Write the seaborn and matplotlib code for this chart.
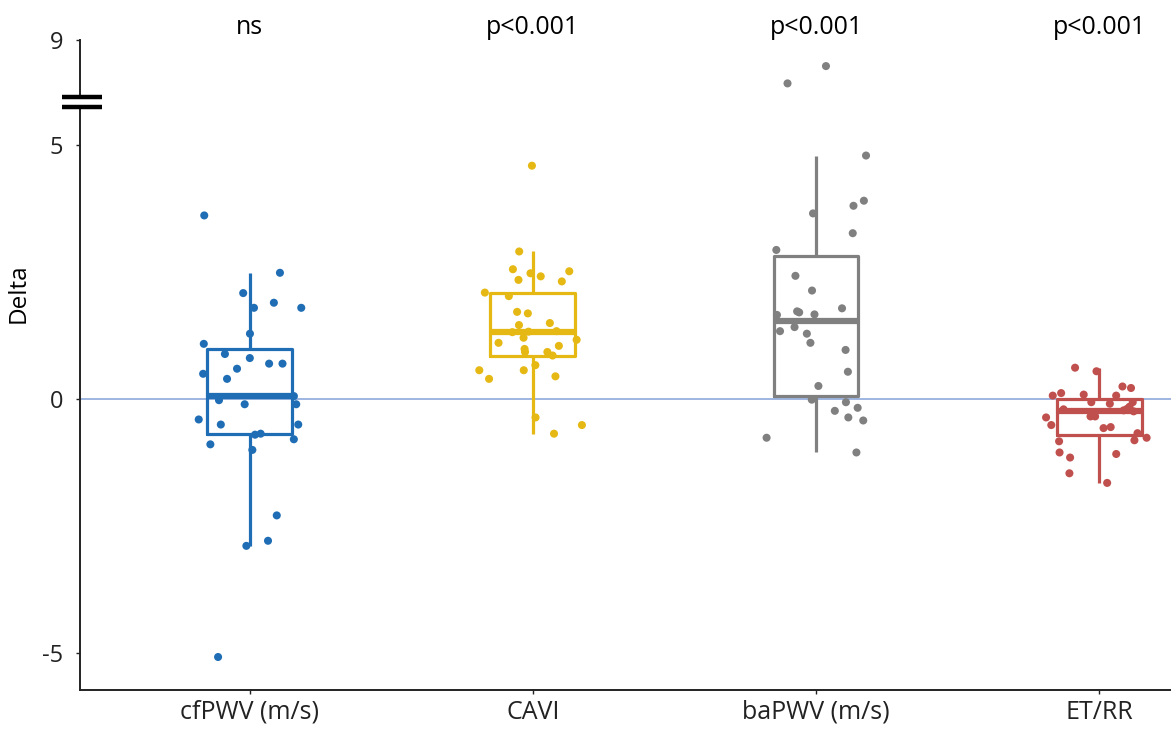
import numpy as np
import pandas as pd
import matplotlib.pyplot as plt
import matplotlib.transforms as mtransforms
import seaborn as sns

# categorias e valores
categorias = ['cfPWV (m/s)', 'CAVI', 'baPWV (m/s)', 'ET/RR']
pvalores = ['ns', 'p<0.001', 'p<0.001', 'p<0.001']
cores = ['#1F6DB4', '#E5B814', '#808080', '#C0504D']

cfpwv = [3.62, 2.49, 2.09, 1.90, 1.80, 1.80, 1.29, 1.09, 0.89, 0.81, 0.70, 0.70,
         0.60, 0.50, 0.40, 0.06, -0.02, -0.10, -0.10, -0.40, -0.68, -0.50, -0.50,
         -0.70, -0.79, -0.89, -1.00, -2.29, -2.79, -2.89, -5.08]
cavi = [4.60, 2.91, 2.48, 2.35, 2.52, 2.32, 2.56, 2.42, 2.03, 1.69, 1.72, 1.50,
        1.46, 1.33, 1.34, 1.21, 1.17, 1.11, 1.05, 0.99, 0.93, 0.93, 0.67, 0.57,
        0.57, 0.40, 0.45, -0.36, -0.68, -0.51, 0.86, 2.10, 1.32]
bapwv = [7.93, 7.22, 4.80, 3.91, 3.81, 3.66, 3.27, 2.94, 2.43, 2.14, 1.79, 1.67,
         1.66, 1.71, 1.73, 1.42, 1.34, 1.29, 1.11, 0.97, 0.54, 0.26, -0.01, -0.06,
         -0.17, -0.23, -0.36, -0.42, -0.76, -1.05]
etrr = [0.62, 0.55, 0.22, 0.25, 0.12, 0.07, 0.07, 0.09, -0.06, -0.06, -0.09, -0.22,
        -0.24, -0.19, -0.36, -0.34, -0.34, -0.51, -0.57, -0.55, -0.81, -0.76, -0.83,
        -1.15, -1.08, -1.05, -1.46, -1.65, -0.20, -0.15, -0.67]

yticks = [-5, 0, 5, 9]

df = pd.DataFrame({
    'Variavel': np.repeat(categorias, [len(cfpwv), len(cavi), len(bapwv), len(etrr)]),
    'Delta': cfpwv + cavi + bapwv + etrr,
})

# eixo com quebra: acima do corte a escala é comprimida
corte, fator = 5.3, 0.48


def ida(v):
    v = np.asarray(v, dtype=float)
    return np.where(v <= corte, v, corte + (v - corte) * fator)


def volta(u):
    u = np.asarray(u, dtype=float)
    return np.where(u <= corte, u, corte + (u - corte) / fator)


sns.set_style('white')
plt.rcParams['font.family'] = ['Open Sans', 'DejaVu Sans']

fig = plt.figure(figsize=(11.71, 7.29), dpi=100)
ax = fig.add_axes([0.0683, 0.0535, 0.9317, 0.8916])

ax.axhline(0, color='#8EA9DB', lw=1.2, zorder=0)

sns.boxplot(data=df, x='Variavel', y='Delta', hue='Variavel', palette=cores,
            fill=False, width=0.30, linewidth=2.3, showcaps=False, showfliers=False,
            medianprops={'linewidth': 4.5}, legend=False, ax=ax)

np.random.seed(7)
sns.stripplot(data=df, x='Variavel', y='Delta', hue='Variavel', palette=cores,
              jitter=0.19, size=5.8, linewidth=0, legend=False, zorder=3, ax=ax)

ax.set_yscale('function', functions=(ida, volta))
ax.set_ylim(-5.73, 9)
ax.set_xlim(-0.60, 3.254)
ax.set_yticks(yticks)
ax.set_yticklabels([str(t) for t in yticks])

ax.set_xlabel('')
ax.set_ylabel('Delta', fontsize=17.5, color='black')
ax.yaxis.set_label_coords(-0.045, 0.61)

for lado in ['top', 'right']:
    ax.spines[lado].set_visible(False)
for lado in ['left', 'bottom']:
    ax.spines[lado].set_color('#222222')
    ax.spines[lado].set_linewidth(1.4)

ax.tick_params(axis='y', left=True, length=3, width=1, pad=9, labelsize=17, colors='#222222')
ax.tick_params(axis='x', bottom=True, length=3, width=1, pad=4, labelsize=18, colors='#222222')

# valores de p acima de cada grupo
trans = mtransforms.blended_transform_factory(ax.transData, ax.transAxes)
for i, p in enumerate(pvalores):
    ax.text(i, 1.02, p, transform=trans, ha='center', va='center', fontsize=18, color='black')

# marca da quebra do eixo
ax.plot([-0.006, 0.006], [0.9046, 0.9046], transform=ax.transAxes, color='white',
        lw=5, clip_on=False, zorder=6, solid_capstyle='butt')
for yq in [0.9118, 0.8965]:
    ax.plot([-0.0165, 0.0202], [yq, yq], transform=ax.transAxes, color='black',
            lw=3.2, clip_on=False, zorder=7, solid_capstyle='butt')

plt.savefig('out.png', dpi=100)
